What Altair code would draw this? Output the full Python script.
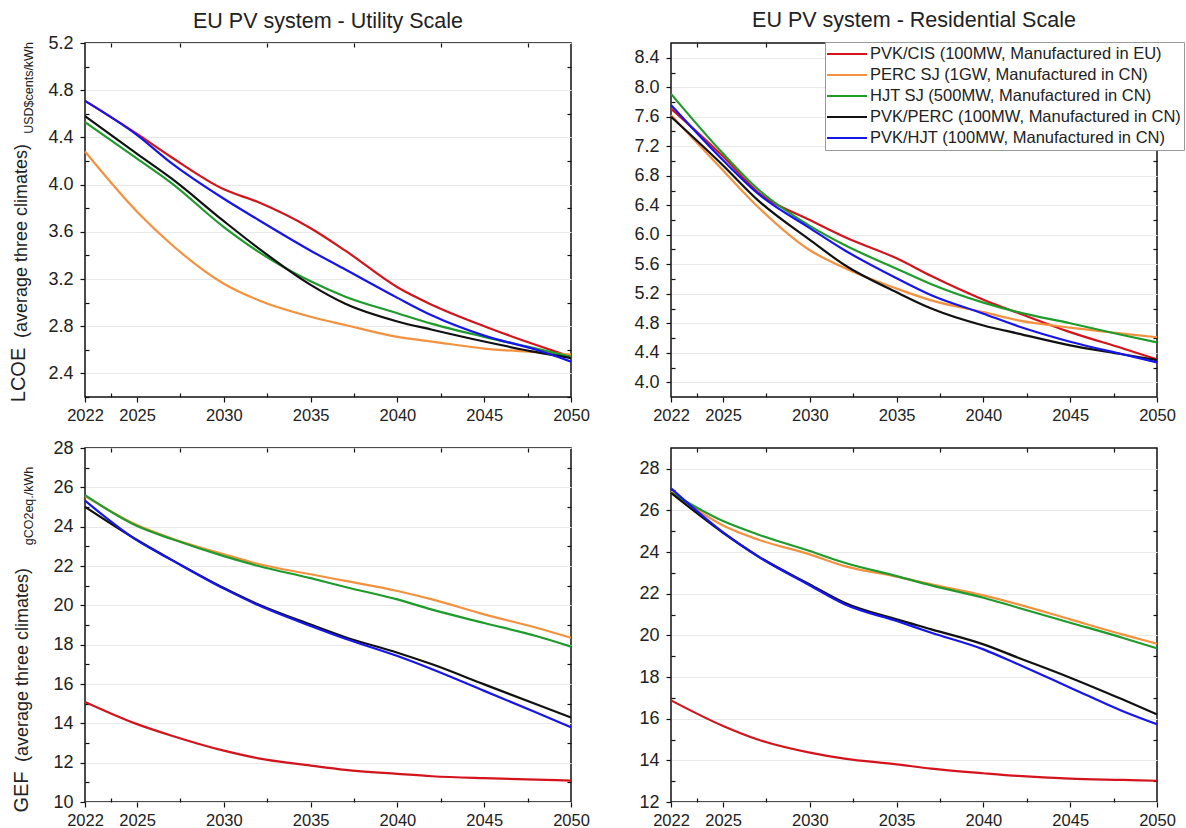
import altair as alt
import pandas as pd

# Sampling years shared by every curve
years = [2022, 2025, 2027, 2030, 2032, 2035, 2037, 2040, 2042, 2045, 2048, 2050]

series_names = [
    "PVK/CIS (100MW, Manufactured in EU)",
    "PERC SJ (1GW, Manufactured in CN)",
    "HJT SJ (500MW, Manufactured in CN)",
    "PVK/PERC (100MW, Manufactured in CN)",
    "PVK/HJT (100MW, Manufactured in CN)",
]
series_colors = ["#d3141c", "#f4913f", "#1f9b2c", "#111111", "#1616ea"]

# LCOE, utility scale (USD cents/kWh)
lcoe_util_cis = [4.71, 4.43, 4.23, 3.96, 3.85, 3.63, 3.44, 3.13, 2.98, 2.80, 2.64, 2.54]
lcoe_util_perc = [4.28, 3.77, 3.49, 3.16, 3.02, 2.88, 2.81, 2.71, 2.67, 2.61, 2.58, 2.56]
lcoe_util_hjt = [4.53, 4.22, 4.01, 3.64, 3.43, 3.18, 3.05, 2.91, 2.82, 2.71, 2.61, 2.54]
lcoe_util_pvk_perc = [4.58, 4.26, 4.05, 3.69, 3.46, 3.15, 2.99, 2.84, 2.77, 2.67, 2.58, 2.53]
lcoe_util_pvk_hjt = [4.71, 4.42, 4.18, 3.88, 3.70, 3.44, 3.28, 3.04, 2.89, 2.72, 2.60, 2.50]

# LCOE, residential scale (USD cents/kWh)
lcoe_res_cis = [7.71, 7.06, 6.58, 6.20, 5.97, 5.68, 5.44, 5.12, 4.94, 4.68, 4.46, 4.31]
lcoe_res_perc = [7.62, 6.87, 6.38, 5.79, 5.55, 5.27, 5.11, 4.95, 4.84, 4.74, 4.66, 4.61]
lcoe_res_hjt = [7.91, 7.10, 6.62, 6.12, 5.86, 5.54, 5.33, 5.08, 4.95, 4.80, 4.64, 4.54]
lcoe_res_pvk_perc = [7.60, 6.94, 6.47, 5.93, 5.59, 5.22, 5.00, 4.77, 4.66, 4.50, 4.38, 4.30]
lcoe_res_pvk_hjt = [7.76, 7.01, 6.56, 6.09, 5.79, 5.41, 5.18, 4.93, 4.76, 4.55, 4.38, 4.27]

# GEF, utility scale (gCO2eq/kWh)
gef_util_cis = [15.09, 13.96, 13.37, 12.61, 12.22, 11.85, 11.63, 11.43, 11.31, 11.21, 11.14, 11.09]
gef_util_perc = [25.55, 24.08, 23.40, 22.60, 22.10, 21.58, 21.24, 20.73, 20.30, 19.54, 18.86, 18.35]
gef_util_hjt = [25.60, 24.03, 23.37, 22.50, 22.00, 21.38, 20.93, 20.30, 19.78, 19.10, 18.44, 17.90]
gef_util_pvk_perc = [25.01, 23.32, 22.31, 20.88, 20.04, 19.02, 18.38, 17.59, 17.00, 15.98, 14.97, 14.30]
gef_util_pvk_hjt = [25.32, 23.30, 22.30, 20.85, 20.00, 18.95, 18.30, 17.42, 16.75, 15.65, 14.55, 13.80]

# GEF, residential scale (gCO2eq/kWh)
gef_res_cis = [16.88, 15.65, 15.00, 14.37, 14.08, 13.81, 13.60, 13.38, 13.25, 13.12, 13.06, 13.02]
gef_res_perc = [26.90, 25.28, 24.61, 23.89, 23.33, 22.82, 22.45, 21.92, 21.49, 20.77, 20.05, 19.60]
gef_res_hjt = [26.85, 25.49, 24.85, 24.05, 23.49, 22.85, 22.40, 21.81, 21.33, 20.61, 19.89, 19.38]
gef_res_pvk_perc = [26.85, 24.93, 23.81, 22.45, 21.57, 20.77, 20.29, 19.57, 18.93, 17.97, 16.93, 16.21]
gef_res_pvk_hjt = [27.06, 24.95, 23.80, 22.40, 21.50, 20.69, 20.13, 19.33, 18.61, 17.49, 16.37, 15.73]

# Axis tick positions (major ticks are labelled, minor ticks are not)
x_ticks = [2022, 2025, 2030, 2035, 2040, 2045, 2050]
x_minor = [2023.5, 2027.5, 2032.5, 2037.5, 2042.5, 2047.5]
lcoe_util_ticks = [2.4, 2.8, 3.2, 3.6, 4.0, 4.4, 4.8, 5.2]
lcoe_util_minor = [2.2, 2.6, 3.0, 3.4, 3.8, 4.2, 4.6, 5.0]
lcoe_res_ticks = [4.0, 4.4, 4.8, 5.2, 5.6, 6.0, 6.4, 6.8, 7.2, 7.6, 8.0, 8.4]
lcoe_res_minor = [4.2, 4.6, 5.0, 5.4, 5.8, 6.2, 6.6, 7.0, 7.4, 7.8, 8.2]
gef_util_ticks = [10, 12, 14, 16, 18, 20, 22, 24, 26, 28]
gef_util_minor = [11, 13, 15, 17, 19, 21, 23, 25, 27]
gef_res_ticks = [12, 14, 16, 18, 20, 22, 24, 26, 28]
gef_res_minor = [13, 15, 17, 19, 21, 23, 25, 27]

panel_titles = ["EU PV system - Utility Scale", "EU PV system - Residential Scale"]
lcoe_title = ["LCOE", "(average three climates)", "USD$cents/kWh"]
gef_title = ["GEF", "(average three climates)", "gCO2eq./kWh"]

W, H = 486, 354
FONT = "Liberation Sans"
INK = "#222222"


def long_table(columns):
    rows = []
    for name, values in zip(series_names, columns):
        for yr, v in zip(years, values):
            rows.append({"year": yr, "value": v, "series": name})
    return pd.DataFrame(rows)


legend = alt.Legend(
    title=None,
    orient="none",
    legendX=740,
    legendY=-1,
    symbolType="M-1.25,0H3.75",
    symbolSize=256,
    symbolStrokeWidth=2,
    labelFontSize=16.5,
    labelFont=FONT,
    labelColor=INK,
    labelLimit=400,
    labelOffset=24,
    rowPadding=3,
    padding=3,
    strokeColor="#9a9a9a",
    fillColor="white",
)


def minor_axis(orient, values):
    # unlabelled short ticks pointing into the plot area
    return alt.Axis(orient=orient, values=values, labels=False, domain=False,
                    grid=False, ticks=True, tickSize=4, offset=-4, title=None)


def y_title_layers(parts, centers, baselines, sizes):
    layers = []
    for txt, c, b, s in zip(parts, centers, baselines, sizes):
        layers.append(
            alt.Chart(pd.DataFrame({"label": [txt]}))
            .mark_text(angle=270, align="center", baseline="alphabetic",
                       fontSize=s, font=FONT, color=INK)
            .encode(text="label:N", x=alt.value(b), y=alt.value(c))
        )
    return layers


def panel(columns, domain, ticks, minor, fmt, title=None, title_offset=0,
          ytitle=None, tpos=None):
    df = long_table(columns)
    xs = alt.Scale(domain=[2022, 2050], nice=False, zero=False)
    ys = alt.Scale(domain=domain, nice=False, zero=False)

    lines = alt.Chart(df).mark_line(strokeWidth=2.2, interpolate="monotone").encode(
        x=alt.X("year:Q", scale=xs,
                axis=alt.Axis(orient="bottom", values=x_ticks, format="d", title=None,
                              labelFlush=False, labelOverlap=False, domain=False)),
        y=alt.Y("value:Q", scale=ys,
                axis=alt.Axis(orient="left", values=ticks, format=fmt, title=None,
                              grid=True, labelOverlap=False, domain=False,
                              labelPadding=7)),
        color=alt.Color("series:N",
                        scale=alt.Scale(domain=series_names, range=series_colors),
                        sort=series_names, legend=legend),
    )
    inner = alt.Chart(df).mark_line(strokeOpacity=0).encode(
        x=alt.X("year:Q", scale=xs, axis=minor_axis("bottom", x_minor)),
        y=alt.Y("value:Q", scale=ys, axis=minor_axis("left", minor)),
    )
    mirror = alt.Chart(df).mark_line(strokeOpacity=0).encode(
        x=alt.X("year:Q", scale=xs, axis=minor_axis("top", x_minor)),
        y=alt.Y("value:Q", scale=ys, axis=minor_axis("right", minor)),
    )
    layers = [lines, inner, mirror]
    if ytitle is not None:
        layers += y_title_layers(ytitle, *tpos)
    ch = (alt.layer(*layers)
          .resolve_axis(x="independent", y="independent")
          .properties(width=W, height=H))
    if title is not None:
        ch = ch.properties(title=alt.Title(title, fontSize=21.5, font=FONT,
                                           fontWeight="normal", color=INK,
                                           offset=title_offset, frame="group"))
    return ch


# centre (from plot top), baseline x (from plot left), font size for each title piece
top_pos = ([332, 198, 45], [-60, -58, -52], [20, 18, 12.5])
bot_pos = ([344, 217, 58], [-57, -57, -52], [20, 18, 12.5])

p1 = panel([lcoe_util_cis, lcoe_util_perc, lcoe_util_hjt, lcoe_util_pvk_perc, lcoe_util_pvk_hjt],
           [2.2, 5.2], lcoe_util_ticks, lcoe_util_minor, ".1f",
           panel_titles[0], 2, lcoe_title, top_pos)
p2 = panel([lcoe_res_cis, lcoe_res_perc, lcoe_res_hjt, lcoe_res_pvk_perc, lcoe_res_pvk_hjt],
           [3.8, 8.6], lcoe_res_ticks, lcoe_res_minor, ".1f",
           panel_titles[1], 11)
p3 = panel([gef_util_cis, gef_util_perc, gef_util_hjt, gef_util_pvk_perc, gef_util_pvk_hjt],
           [10, 28], gef_util_ticks, gef_util_minor, "d", None, 0, gef_title, bot_pos)
p4 = panel([gef_res_cis, gef_res_perc, gef_res_hjt, gef_res_pvk_perc, gef_res_pvk_hjt],
           [12, 29], gef_res_ticks, gef_res_minor, "d")

chart = (
    alt.concat(p1, p2, p3, p4, columns=2, spacing={"row": 51, "column": 100}, bounds="flush")
    .properties(padding={"left": 8, "top": 9, "right": 0, "bottom": 4})
    .configure(font=FONT)
    .configure_view(stroke="#111111", strokeWidth=1.5)
    .configure_axis(
        labelFont=FONT, labelColor=INK,
        tickColor="#111111", tickWidth=1.2, tickSize=5,
        gridColor="#e8e8e8", gridWidth=1, labelPadding=5,
    )
    .configure_axisX(grid=False, labelFontSize=16.5)
    .configure_axisY(labelFontSize=18)
)

chart.save("out.html", embed_options={"renderer": "svg", "actions": False})
